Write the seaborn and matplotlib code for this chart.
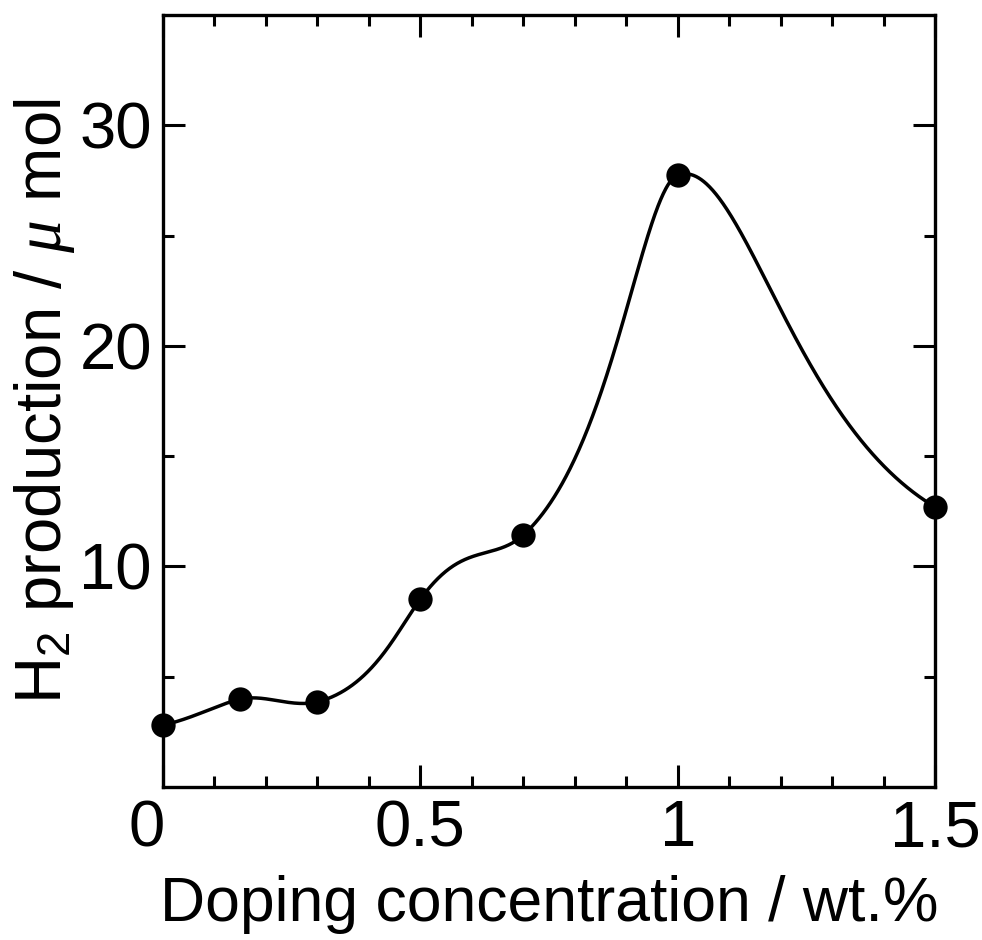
import numpy as np
import pandas as pd
import matplotlib
matplotlib.use("Agg")
import matplotlib.pyplot as plt
import matplotlib.transforms as mtransforms
from matplotlib.ticker import MultipleLocator, FixedLocator
import seaborn as sns

# ---- data ----
doping = [0.0, 0.15, 0.30, 0.50, 0.70, 1.00, 1.50]
h2_umol = [2.8, 3.98, 3.86, 8.52, 11.42, 27.74, 12.70]
x_ticks = [0, 0.5, 1, 1.5]
x_tick_labels = ["0", "0.5", "1", "1.5"]
y_ticks = [10, 20, 30]
y_tick_labels = ["10", "20", "30"]

sns.set_theme(style="white")
plt.rcParams["font.family"] = ["Liberation Sans", "DejaVu Sans"]
plt.rcParams["mathtext.fontset"] = "custom"
plt.rcParams["mathtext.rm"] = "Liberation Sans"
plt.rcParams["mathtext.it"] = "Liberation Serif:italic"
plt.rcParams["text.color"] = "black"
plt.rcParams["axes.labelcolor"] = "black"
plt.rcParams["xtick.color"] = "black"
plt.rcParams["ytick.color"] = "black"

XMAX, YMAX = 1.5, 35.0


def smooth_curve(x, y, n=1200):
    """Cubic Hermite (Catmull-Rom tangents) through the points,
    built on the reciprocal of y for a peaked, smooth guide line."""
    x = np.asarray(x, float)
    w = 1.0 / np.asarray(y, float)
    k = len(x)
    h = np.diff(x)
    m = np.zeros(k)
    m[1:-1] = (w[2:] - w[:-2]) / (x[2:] - x[:-2])
    m[0] = (w[1] - w[0]) / h[0]
    m[-1] = (w[-1] - w[-2]) / h[-1]
    xs = np.linspace(x[0], x[-1], n)
    idx = np.clip(np.searchsorted(x, xs) - 1, 0, k - 2)
    hh = h[idx]
    t = (xs - x[idx]) / hh
    h00 = 2 * t ** 3 - 3 * t ** 2 + 1
    h10 = t ** 3 - 2 * t ** 2 + t
    h01 = -2 * t ** 3 + 3 * t ** 2
    h11 = t ** 3 - t ** 2
    ws = h00 * w[idx] + h10 * hh * m[idx] + h01 * w[idx + 1] + h11 * hh * m[idx + 1]
    return xs, 1.0 / ws


df = pd.DataFrame({"doping": doping, "h2": h2_umol})
xs, ys = smooth_curve(doping, h2_umol)
curve = pd.DataFrame({"doping": xs, "h2": ys})

fig = plt.figure(figsize=(9.82, 9.40), dpi=100)
ax = fig.add_axes([163 / 982, 1 - 787 / 940, (935 - 163) / 982, (787 - 15) / 940])

sns.lineplot(data=curve, x="doping", y="h2", ax=ax, color="black", lw=2.5,
             sort=False, estimator=None)
sns.scatterplot(data=df, x="doping", y="h2", ax=ax, color="black", s=17.5 ** 2,
                edgecolor="black", linewidth=0, zorder=5, clip_on=False)

ax.set_xlim(0, XMAX)
ax.set_ylim(0, YMAX)

ax.xaxis.set_major_locator(FixedLocator(x_ticks))
ax.set_xticklabels(x_tick_labels)
ax.xaxis.set_minor_locator(MultipleLocator(0.1))
ax.yaxis.set_major_locator(FixedLocator(y_ticks))
ax.set_yticklabels(y_tick_labels)
ax.yaxis.set_minor_locator(FixedLocator([5, 15, 25]))

ax.tick_params(which="both", direction="in", top=True, right=True,
               bottom=True, left=True, color="black", width=2.2)
ax.tick_params(which="major", length=16, labelsize=47, labelcolor="black")
ax.tick_params(which="minor", length=8)
ax.tick_params(axis="x", which="major", pad=9)
ax.tick_params(axis="y", which="major", pad=8)

for s in ax.spines.values():
    s.set_linewidth(2.4)
    s.set_color("black")

# shift the "0" label slightly left as in the reference
lbl0 = ax.get_xticklabels()[0]
lbl0.set_transform(lbl0.get_transform() + mtransforms.ScaledTranslation(-16 / 100, 0, fig.dpi_scale_trans))

ax.set_xlabel("Doping concentration / wt.%", fontsize=45, labelpad=11, color="black")
ax.set_ylabel(r"H$_2$ production / $\mu$ mol", fontsize=47, labelpad=2, color="black")
ax.grid(False)

fig.savefig("out.png", dpi=100, facecolor="white")
